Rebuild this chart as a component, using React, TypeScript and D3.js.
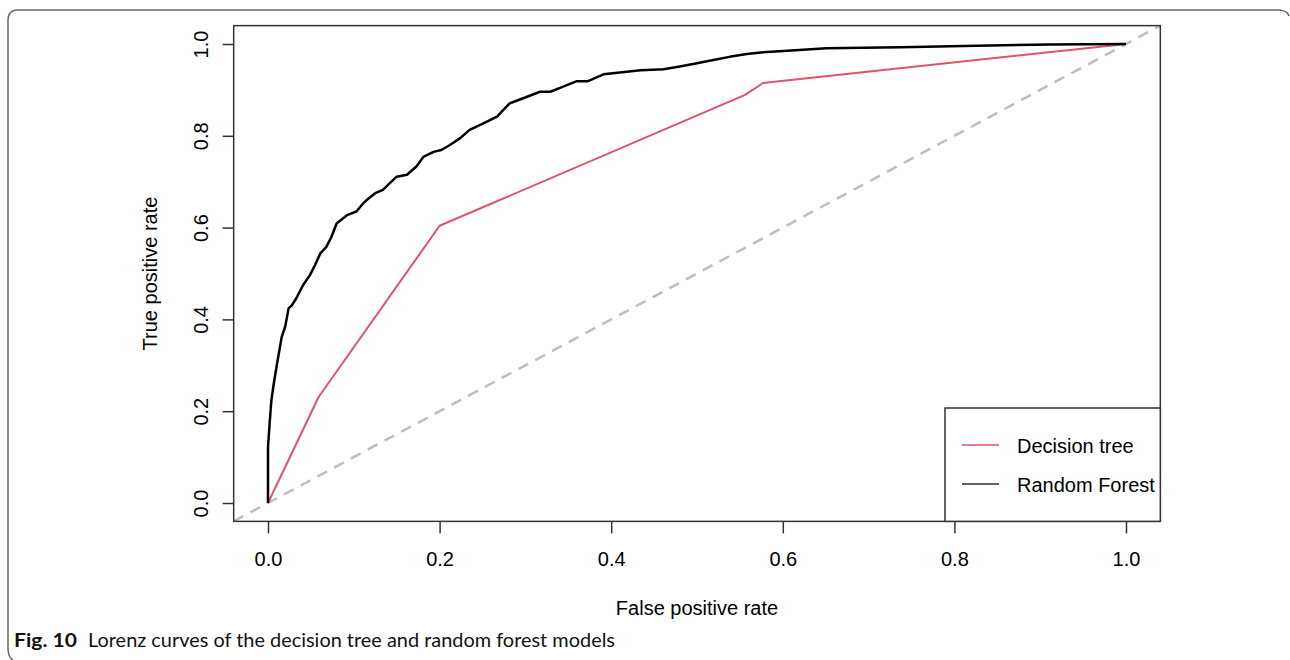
import React, { useRef, useEffect } from "react";
import { select, scaleLinear, line, axisBottom, axisLeft, format } from "d3";

// Random forest curve (false positive rate, true positive rate)
const rfFpr = [0, 0, 0.002, 0.0035, 0.004, 0.006, 0.008, 0.012, 0.016, 0.02, 0.024, 0.028, 0.033, 0.041, 0.049, 0.055, 0.061, 0.068, 0.074, 0.08, 0.092, 0.103, 0.111, 0.115, 0.125, 0.134, 0.142, 0.15, 0.162, 0.173, 0.181, 0.193, 0.202, 0.212, 0.224, 0.235, 0.251, 0.267, 0.274, 0.282, 0.302, 0.317, 0.329, 0.344, 0.36, 0.373, 0.391, 0.41, 0.434, 0.461, 0.48, 0.5, 0.519, 0.538, 0.558, 0.577, 0.601, 0.628, 0.651, 0.737, 0.826, 0.911, 1];
const rfTpr = [0, 0.122, 0.176, 0.213, 0.224, 0.251, 0.275, 0.319, 0.362, 0.384, 0.424, 0.431, 0.446, 0.475, 0.497, 0.519, 0.544, 0.558, 0.58, 0.609, 0.627, 0.635, 0.653, 0.66, 0.675, 0.682, 0.697, 0.711, 0.715, 0.733, 0.754, 0.765, 0.769, 0.78, 0.795, 0.813, 0.827, 0.842, 0.856, 0.871, 0.885, 0.896, 0.896, 0.907, 0.919, 0.919, 0.934, 0.938, 0.943, 0.945, 0.951, 0.958, 0.965, 0.972, 0.978, 0.982, 0.985, 0.988, 0.991, 0.993, 0.996, 0.999, 1];

// Decision tree curve
const dtFpr = [0, 0.059, 0.2, 0.556, 0.577, 1];
const dtTpr = [0, 0.231, 0.604, 0.889, 0.915, 1];

const ticks = [0, 0.2, 0.4, 0.6, 0.8, 1.0];
const legendLabels = ["Decision tree", "Random Forest"];
const legendColors = ["#DF536B", "#333333"];

const FONT = "'Liberation Sans', Arial, sans-serif";

function App() {
  const xAxisRef = useRef(null);
  const yAxisRef = useRef(null);

  // plot region (R style: domain padded by 4%)
  const x = scaleLinear().domain([-0.04, 1.04]).range([233.68, 1160.32]);
  const y = scaleLinear().domain([-0.04, 1.04]).range([521.36, 25.64]);

  const rf = rfFpr.map((d, i) => [d, rfTpr[i]]);
  const dt = dtFpr.map((d, i) => [d, dtTpr[i]]);
  const lineGen = line().x(d => x(d[0])).y(d => y(d[1]));

  useEffect(() => {
    const fmt = format(".1f");
    const gx = select(xAxisRef.current);
    gx.call(axisBottom(x).tickValues(ticks).tickSize(12).tickFormat(fmt));
    gx.select(".domain").remove();
    gx.selectAll(".tick line").attr("stroke", "#333").attr("stroke-width", 1.5);
    gx.selectAll(".tick text")
      .attr("y", 45).attr("dy", 0)
      .attr("font-family", FONT).attr("font-size", 20).attr("fill", "#000");

    const gy = select(yAxisRef.current);
    gy.call(axisLeft(y).tickValues(ticks).tickSize(11).tickFormat(fmt));
    gy.select(".domain").remove();
    gy.selectAll(".tick line").attr("stroke", "#333").attr("stroke-width", 1.5);
    gy.selectAll(".tick text")
      .attr("x", 0).attr("y", -26).attr("dy", 0)
      .attr("transform", "rotate(-90)")
      .attr("text-anchor", "middle")
      .attr("font-family", FONT).attr("font-size", 20).attr("fill", "#000");
  }, []);

  const [x0, x1] = x.range();
  const [y0, y1] = y.range();

  return (
    <svg width={1290} height={660} style={{ position: "absolute", left: 0, top: 0, background: "#fff" }}>
      <rect width={1290} height={660} fill="#fff" />
      {/* figure frame */}
      <path d="M 13,660 Q 8,657 8,648 L 8,20 Q 8,10 18,10 L 1278,10 Q 1287,10 1289,16"
        fill="none" stroke="#666" strokeWidth={1.5} />

      <defs>
        <clipPath id="plotClip">
          <rect x={x0} y={y1} width={x1 - x0} height={y0 - y1} />
        </clipPath>
      </defs>

      {/* diagonal reference */}
      <line clipPath="url(#plotClip)" x1={x(-0.04)} y1={y(-0.04)} x2={x(1.04)} y2={y(1.04)}
        stroke="#bebebe" strokeWidth={2.5} strokeDasharray="11 8" />

      <path d={lineGen(dt)} fill="none" stroke="#DF536B" strokeWidth={2} strokeLinejoin="round" />
      <path d={lineGen(rf)} fill="none" stroke="#000" strokeWidth={2.5} strokeLinejoin="round" />

      <rect x={x0} y={y1} width={x1 - x0} height={y0 - y1} fill="none" stroke="#333" strokeWidth={1.5} />

      <g ref={xAxisRef} transform={`translate(0,${y0})`} />
      <g ref={yAxisRef} transform={`translate(${x0},0)`} />

      {/* legend */}
      <rect x={945} y={408} width={x1 - 945} height={y0 - 408} fill="#fff" stroke="#333" strokeWidth={1.5} />
      {legendLabels.map((lab, i) => (
        <g key={lab} transform={`translate(0,${445 + i * 39})`}>
          <line x1={962} x2={999} y1={0} y2={0} stroke={legendColors[i]} strokeWidth={1.5} />
          <text x={1017} y={8} fontFamily={FONT} fontSize={20} fill="#000">{lab}</text>
        </g>
      ))}

      {/* axis titles */}
      <text x={(x(0) + x(1)) / 2} y={615} textAnchor="middle" fontFamily={FONT} fontSize={20} fill="#000">
        False positive rate
      </text>
      <text transform={`translate(157,${(y(0) + y(1)) / 2}) rotate(-90)`} textAnchor="middle"
        fontFamily={FONT} fontSize={20} fill="#000">
        True positive rate
      </text>

      {/* caption */}
      <text x={14} y={647} fontFamily="Lato, 'Noto Sans', sans-serif" fontSize={19} fill="#111">
        <tspan fontWeight="bold" textLength={63} lengthAdjust="spacingAndGlyphs">Fig. 10</tspan>
        <tspan x={88} textLength={527} lengthAdjust="spacingAndGlyphs">Lorenz curves of the decision tree and random forest models</tspan>
      </text>
    </svg>
  );
}

export default App;
